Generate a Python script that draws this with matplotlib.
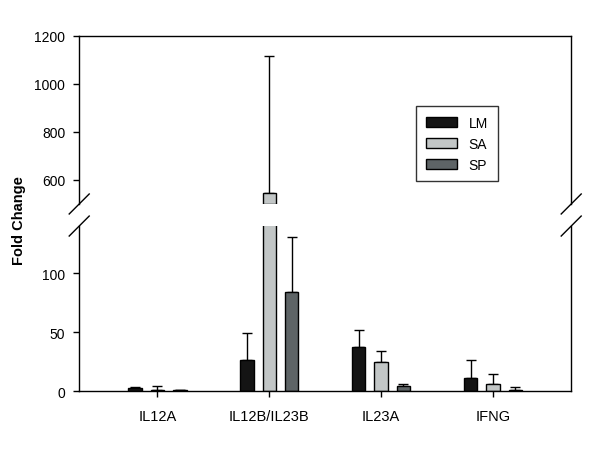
import matplotlib
matplotlib.use("Agg")
import matplotlib.pyplot as plt
from matplotlib.patches import Patch
import numpy as np

plt.rcParams['font.family'] = ['Liberation Sans', 'DejaVu Sans']

# values
genes = ["IL12A", "IL12B/IL23B", "IL23A", "IFNG"]
series = ["LM", "SA", "SP"]
lm = [2.5, 26, 37, 11]
lm_err = [0.5, 23, 15, 15.5]
sa = [1, 545, 25, 6]
sa_err = [3, 570, 9, 8.5]
sp = [0.5, 84, 4.3, 1]
sp_err = [0.5, 47, 1.7, 2.4]

colors = ["#141414", "#c2c6c6", "#5e6466"]
vals = [lm, sa, sp]
errs = [lm_err, sa_err, sp_err]

lo_lim = (0, 140)
hi_lim = (500, 1200)

fig = plt.figure(figsize=(6, 4.52), dpi=100)
ax_hi = fig.add_axes([0.132, 0.5465, 0.82, 0.3717])
ax_lo = fig.add_axes([0.132, 0.1327, 0.82, 0.365])

x = np.arange(len(genes))
w = 0.12
step = 0.2

for i in range(3):
    xs = x + (i - 1) * step
    v = np.array(vals[i], dtype=float)
    e = np.array(errs[i], dtype=float)
    ax_lo.bar(xs, v, width=w, color=colors[i], edgecolor='black', linewidth=1, zorder=2)
    ax_lo.errorbar(xs, v, yerr=[np.zeros_like(e), e], fmt='none', ecolor='black',
                   elinewidth=1, capsize=3.5, capthick=1, zorder=1)
    # upper panel: only the part above the break
    big = v > hi_lim[0]
    if big.any():
        ax_hi.bar(xs[big], v[big] - hi_lim[0], bottom=hi_lim[0], width=w,
                  color=colors[i], edgecolor='black', linewidth=1, zorder=2)
    ax_hi.errorbar(xs, v, yerr=[np.zeros_like(e), e], fmt='none', ecolor='black',
                   elinewidth=1, capsize=3.5, capthick=1, zorder=1)

for ax in (ax_lo, ax_hi):
    ax.set_xlim(-0.7, 3.7)
    for s in ax.spines.values():
        s.set_linewidth(1)
    ax.tick_params(axis='y', direction='out', length=4, width=1, labelsize=10, pad=6)

ax_lo.set_ylim(*lo_lim)
ax_lo.set_yticks([0, 50, 100])
ax_lo.spines['top'].set_visible(False)
ax_lo.set_xticks(x)
ax_lo.set_xticklabels(genes, fontsize=10.5)
ax_lo.tick_params(axis='x', direction='out', length=4, width=1, pad=9)

ax_hi.set_ylim(*hi_lim)
ax_hi.set_yticks([600, 800, 1000, 1200])
ax_hi.spines['bottom'].set_visible(False)
ax_hi.set_xticks([])

# break marks
bw = 0.82 * 600
d = 10
for ax, hgt, yb in ((ax_hi, 0.3717 * 452, 0), (ax_lo, 0.365 * 452, 1)):
    dx = d / bw
    dy = d / hgt
    for xb in (0, 1):
        ax.plot([xb - dx, xb + dx], [yb - dy, yb + dy], transform=ax.transAxes,
                color='black', linewidth=1, clip_on=False)

fig.text(0.032, 0.511, "Fold Change", rotation=90, ha='center', va='center',
         fontsize=10.5, fontweight='bold')

handles = [Patch(facecolor=c, edgecolor='black', linewidth=1, label=s)
           for c, s in zip(colors, series)]
leg = fig.legend(handles=handles, loc='upper left', bbox_to_anchor=(0.693, 0.763),
                 borderaxespad=0, fontsize=10, frameon=True, fancybox=False,
                 handlelength=2.3, handleheight=0.7, labelspacing=0.5,
                 borderpad=0.7, handletextpad=0.8)
leg.get_frame().set_edgecolor('black')
leg.get_frame().set_linewidth(1)

fig.savefig("out.png", dpi=100)
